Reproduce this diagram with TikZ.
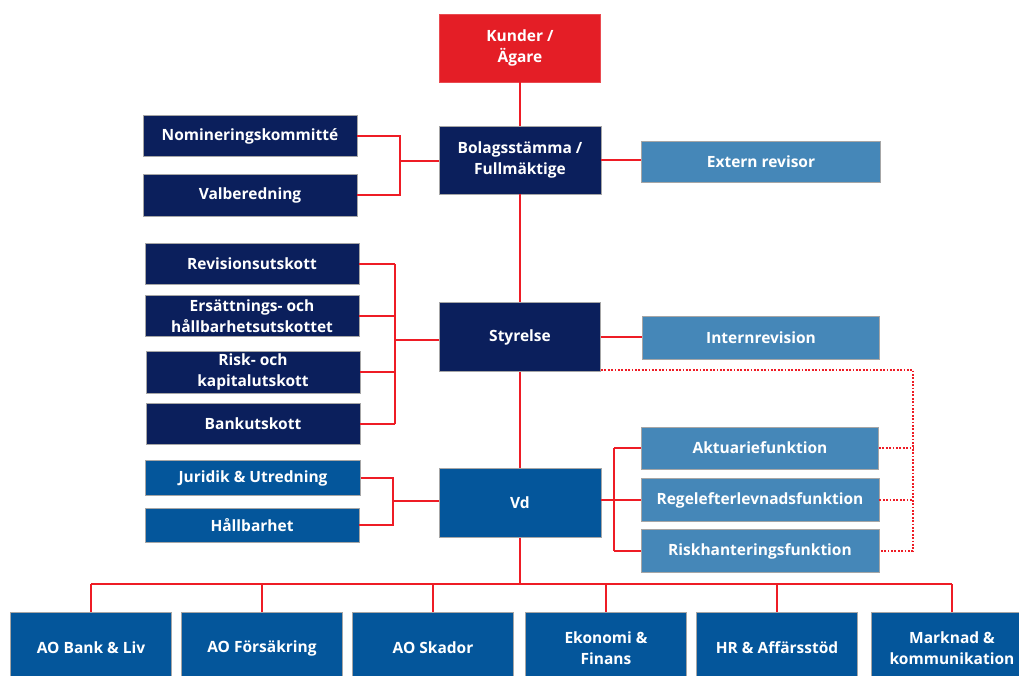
\documentclass[tikz,border=0pt]{standalone}
\usepackage{fontspec}
\setmainfont{Open Sans}
\usepackage{tikz}

\definecolor{navy}{HTML}{0B1F5C}
\definecolor{midblue}{HTML}{04569B}
\definecolor{lightblue}{HTML}{4587B8}
\definecolor{ownerred}{HTML}{E41E26}
\definecolor{linkred}{HTML}{EE1C25}

\begin{document}
\begin{tikzpicture}[x=1pt,y=-1pt,
    unit/.style={draw=gray!70,line width=0.8pt,text=white,align=center,inner sep=0pt,
      font=\bfseries\fontsize{15.5}{21}\selectfont},
    owner/.style={unit,fill=ownerred,draw=ownerred!80!white},
    board/.style={unit,fill=navy},
    staff/.style={unit,fill=midblue},
    control/.style={unit,fill=lightblue},
    link/.style={draw=linkred,line width=1.5pt},
    dotlink/.style={draw=linkred,line width=1.8pt,dash pattern=on 1.8pt off 1.6pt}]

\useasboundingbox (0,0) rectangle (1019,675);

% main column
\node[owner,minimum width=161,minimum height=68] (kunder) at (520,48) {Kunder /\\Ägare};
\node[board,minimum width=162,minimum height=68] (bolag) at (520,160) {Bolagsstämma /\\Fullmäktige};
\node[board,minimum width=161,minimum height=69] (styr) at (520,337) {Styrelse};
\node[staff,minimum width=162,minimum height=69] (vd) at (520,503) {Vd};

% left side
\node[board,minimum width=214,minimum height=41] (nom) at (250,136) {Nomineringskommitté};
\node[board,minimum width=214,minimum height=42] (val) at (250,195) {Valberedning};
\node[board,minimum width=214,minimum height=41] (rev) at (252,264) {Revisionsutskott};
\node[board,minimum width=214,minimum height=41] (ers) at (252,316) {Ersättnings- och\\hållbarhetsutskottet};
\node[board,minimum width=214,minimum height=42] (riskk) at (253,372) {Risk- och\\kapitalutskott};
\node[board,minimum width=214,minimum height=41] (bank) at (253,424) {Bankutskott};
\node[staff,minimum width=215,minimum height=35] (jur) at (253,478) {Juridik \& Utredning};
\node[staff,minimum width=214,minimum height=34] (hall) at (252,525) {Hållbarhet};

% right side
\node[control,minimum width=239,minimum height=41] (extrev) at (761,162) {Extern revisor};
\node[control,minimum width=237,minimum height=43] (intrev) at (761,338) {Internrevision};
\node[control,minimum width=237,minimum height=42] (akt) at (760,448) {Aktuariefunktion};
\node[control,minimum width=238,minimum height=43] (regel) at (760,500) {Regelefterlevnadsfunktion};
\node[control,minimum width=238,minimum height=43] (riskh) at (760,551) {Riskhanteringsfunktion};

% bottom row
\node[staff,minimum width=161,minimum height=72] (bankliv) at (91,648) {AO Bank \& Liv};
\node[staff,minimum width=161,minimum height=72] (fors) at (262,648) {AO Försäkring};
\node[staff,minimum width=161,minimum height=72] (skador) at (433,648) {AO Skador};
\node[staff,minimum width=161,minimum height=72] (ekonomi) at (606,648) {Ekonomi \&\\Finans};
\node[staff,minimum width=161,minimum height=72] (hr) at (777,648) {HR \& Affärsstöd};
\node[staff,minimum width=161,minimum height=72] (marknad) at (952,648) {Marknad \&\\kommunikation};

\coordinate (bolagfork) at (400,161);
\coordinate (styrfork) at (395,340);
\coordinate (vdfork) at (393,501);
\coordinate (funcfork) at (614,500);
\coordinate (dotrail) at (913,370);
\coordinate (bus) at (520,584);

\draw[link] (kunder.south) -- (bolag.north);
\draw[link] (bolag.south) -- (styr.north);
\draw[link] (styr.south) -- (vd.north);
\draw[link] (vd.south) -- (bus);

\draw[link] (nom.east) -| (bolagfork) |- (val.east);
\draw[link] (bolagfork) -- (bolagfork -| bolag.west);
\draw[link] (bolag.east) -- (bolag.east -| extrev.west);

\foreach \n in {rev,ers,riskk,bank}
  \draw[link] (\n.east) -- (\n.east -| styrfork);
\draw[link] (rev.east -| styrfork) -- (bank.east -| styrfork);
\draw[link] (styrfork) -- (styrfork -| styr.west);
\draw[link] (styr.east) -- (styr.east -| intrev.west);

\draw[link] (jur.east) -| (vdfork) |- (hall.east);
\draw[link] (vdfork) -- (vdfork -| vd.west);

\draw[link] (funcfork -| vd.east) -- (funcfork);
\foreach \n in {akt,regel,riskh}
  \draw[link] (funcfork |- \n.west) -- (\n.west);
\draw[link] (funcfork |- akt.west) -- (funcfork |- riskh.west);

% dotted reporting lines
\draw[dotlink] ([yshift=2pt]styr.south east) -| (dotrail |- riskh.east) -- (riskh.east);
\foreach \n in {akt,regel}
  \draw[dotlink] (\n.east) -- (\n.east -| dotrail);

% bus to the bottom row
\draw[link] (bankliv.north |- bus) -- (marknad.north |- bus);
\foreach \n in {bankliv,fors,skador,ekonomi,hr,marknad}
  \draw[link] (\n.north |- bus) -- (\n.north);
\end{tikzpicture}
\end{document}
